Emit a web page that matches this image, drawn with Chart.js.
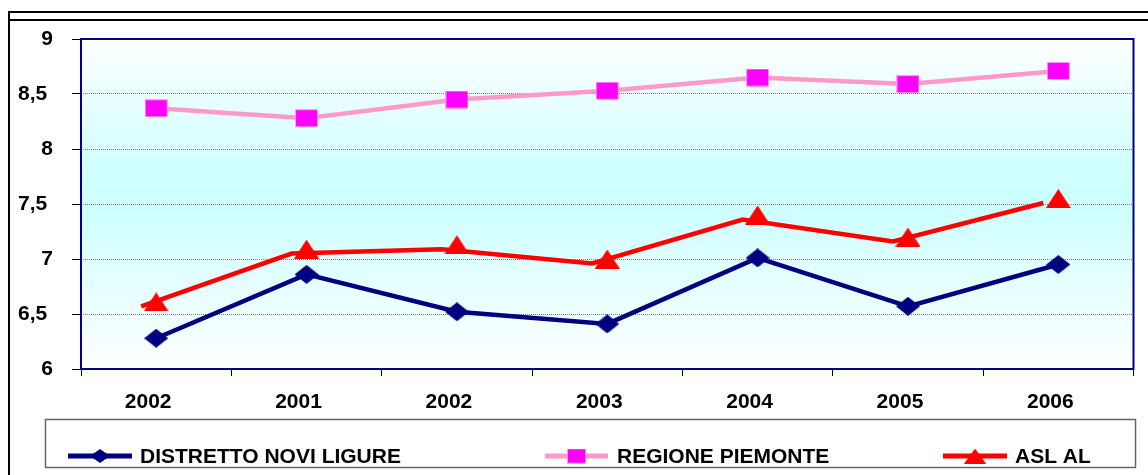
<!DOCTYPE html>
<html><head><meta charset="utf-8">
<script src="https://cdn.jsdelivr.net/npm/chart.js@4/dist/chart.umd.min.js"></script>
<style>
html,body{margin:0;padding:0;background:#fff;width:1148px;height:475px;overflow:hidden;}
#wrap{position:absolute;left:0;top:0;width:1148px;height:475px;}
.fl{position:absolute;background:#000;}
</style></head><body>
<div class="fl" style="left:8px;top:11px;width:1140px;height:2px"></div>
<div class="fl" style="left:8px;top:19px;width:1140px;height:2px"></div>
<div class="fl" style="left:8px;top:11px;width:2px;height:464px"></div>
<div id="wrap"><canvas id="c" width="1148" height="475"></canvas></div>
<script>
// ---- data ----
const categories = ['2002', '2001', '2002', '2003', '2004', '2005', '2006'];
const distrettoNovi = [6.28, 6.86, 6.52, 6.41, 7.01, 6.57, 6.95];
const regionePiemonte = [8.37, 8.28, 8.45, 8.53, 8.65, 8.59, 8.71];
const aslAl = [6.61, 7.09, 7.13, 7.0, 7.4, 7.2, 7.55];
const yTicks = [6, 6.5, 7, 7.5, 8, 8.5, 9];
const seriesNames = ['DISTRETTO NOVI LIGURE', 'REGIONE PIEMONTE', 'ASL AL'];

const FONT = '"Liberation Sans", Arial, sans-serif';

function mk(w, h, draw) {
  const c = document.createElement('canvas');
  c.width = w; c.height = h;
  draw(c.getContext('2d'), w, h);
  return c;
}
function diamond(w, h, col) {
  return mk(w, h, (g) => { g.fillStyle = col; g.beginPath(); g.moveTo(w/2, 0); g.lineTo(w, h/2); g.lineTo(w/2, h); g.lineTo(0, h/2); g.closePath(); g.fill(); });
}
function square(w, h, col) {
  return mk(w, h, (g) => { g.fillStyle = '#ff99ff'; g.fillRect(0, 0, w, h); g.fillStyle = col; g.fillRect(1, 1, w-2, h-2); });
}
function triangle(w, h, col) {
  return mk(w, h, (g) => { g.fillStyle = col; g.beginPath(); g.moveTo(w/2, 0); g.lineTo(w, h); g.lineTo(0, h); g.closePath(); g.fill(); });
}

const NAVY = '#000080', PINK = '#ff99cc', MAGENTA = '#ff00ff', RED = '#ff0000';
const mDiamond = diamond(24, 19, NAVY);
const mSquare = square(23, 18, MAGENTA);
const mTriangle = triangle(25, 19, RED);

const bgPlugin = {
  id: 'bg',
  beforeDraw(chart) {
    const {ctx, chartArea: a} = chart;
    const g = ctx.createLinearGradient(0, a.top, 0, a.bottom);
    g.addColorStop(0, '#ffffff');
    g.addColorStop(0.38, '#d2ffff');
    g.addColorStop(0.5, '#ccffff');
    g.addColorStop(1, '#ffffff');
    ctx.save();
    ctx.fillStyle = g;
    ctx.fillRect(a.left, a.top, a.right - a.left, a.bottom - a.top);
    ctx.restore();
  },
  beforeDatasetsDraw(chart) {
    const {ctx, chartArea: a} = chart;
    ctx.save();
    ctx.strokeStyle = NAVY;
    ctx.lineWidth = 2;
    ctx.strokeRect(a.left, a.top, a.right - a.left, a.bottom - a.top);
    ctx.restore();
  }
};

const shiftPlugin = {
  id: 'shift',
  beforeDatasetDraw(chart, args) {
    const ds = chart.data.datasets[args.index];
    if (ds.lineShift) { chart.ctx.save(); chart.ctx.translate(ds.lineShift[0], ds.lineShift[1]); }
  },
  afterDatasetDraw(chart, args) {
    const ds = chart.data.datasets[args.index];
    if (ds.lineShift) chart.ctx.restore();
  }
};

const legendPlugin = {
  id: 'boxLegend',
  afterDraw(chart) {
    const ctx = chart.ctx;
    ctx.save();
    ctx.strokeStyle = '#666666';
    ctx.lineWidth = 1.5;
    ctx.strokeRect(45.5, 419.5, 1090, 48);
    const entries = [
      {name: seriesNames[0], color: NAVY, marker: mDiamond, mw: 20, mh: 14, x1: 68, x2: 132, tx: 140},
      {name: seriesNames[1], color: PINK, marker: mSquare, mw: 19, mh: 15, x1: 545, x2: 608, tx: 617},
      {name: seriesNames[2], color: RED, marker: mTriangle, mw: 22, mh: 15, x1: 943, x2: 1007, tx: 1015}
    ];
    const ly = 456;
    entries.forEach(e => {
      ctx.strokeStyle = e.color;
      ctx.lineWidth = 5;
      ctx.beginPath(); ctx.moveTo(e.x1, ly); ctx.lineTo(e.x2, ly); ctx.stroke();
      const cx = (e.x1 + e.x2) / 2;
      ctx.drawImage(e.marker, cx - e.mw/2, ly - e.mh/2, e.mw, e.mh);
      ctx.fillStyle = '#000';
      ctx.font = 'bold 21px ' + FONT;
      ctx.textBaseline = 'alphabetic';
      ctx.textAlign = 'left';
      ctx.fillText(e.name, e.tx, 463);
    });
    ctx.restore();
  }
};

new Chart(document.getElementById('c'), {
  type: 'line',
  data: {
    labels: categories,
    datasets: [
      {label: seriesNames[2], data: aslAl, showLine: false, pointStyle: mTriangle, pointRadius: 10, order: 0},
      {label: seriesNames[0], data: distrettoNovi, borderColor: NAVY, borderWidth: 4.5, pointStyle: mDiamond, pointRadius: 10, order: 1},
      {label: seriesNames[1], data: regionePiemonte, borderColor: PINK, borderWidth: 4.5, pointStyle: mSquare, pointRadius: 10, order: 2},
      {label: seriesNames[2] + ' line', data: aslAl, borderColor: RED, borderWidth: 4.5, pointRadius: 0, order: 3, clip: false, lineShift: [-15, 4.5]}
    ]
  },
  options: {
    responsive: false,
    animation: false,
    events: [],
    devicePixelRatio: 1,
    layout: {padding: {left: 0, right: 13, top: 39, bottom: 0}},
    plugins: {legend: {display: false}, tooltip: {enabled: false}},
    elements: {line: {tension: 0, borderCapStyle: 'butt', borderJoinStyle: 'miter'}},
    scales: {
      x: {
        type: 'category',
        offset: true,
        grid: {display: true, drawOnChartArea: false, drawTicks: true, tickLength: 7, offset: true, tickColor: '#000', tickWidth: 1, color: '#000'},
        border: {display: false},
        ticks: {font: {family: FONT, size: 21, weight: 'bold'}, color: '#000', padding: 14, labelOffset: -8, maxRotation: 0, autoSkip: false},
        afterFit(s) { s.height = 106; }
      },
      y: {
        min: 6, max: 9,
        afterBuildTicks(s) { s.ticks = yTicks.map(v => ({value: v})); },
        grid: {color: '#7f7f7f', lineWidth: 1, tickLength: 9, tickColor: '#000', tickWidth: 1, tickBorderDash: [], drawTicks: true},
        border: {display: false, dash: [1, 1]},
        ticks: {
          font: {family: FONT, size: 21, weight: 'bold'}, color: '#000', padding: 19,
          callback: (v) => Number.isInteger(v) ? String(v) : String(v).replace('.', ',') + ' '
        },
        afterFit(s) { s.width = 81; }
      }
    }
  },
  plugins: [bgPlugin, shiftPlugin, legendPlugin]
});
</script>
</body></html>
